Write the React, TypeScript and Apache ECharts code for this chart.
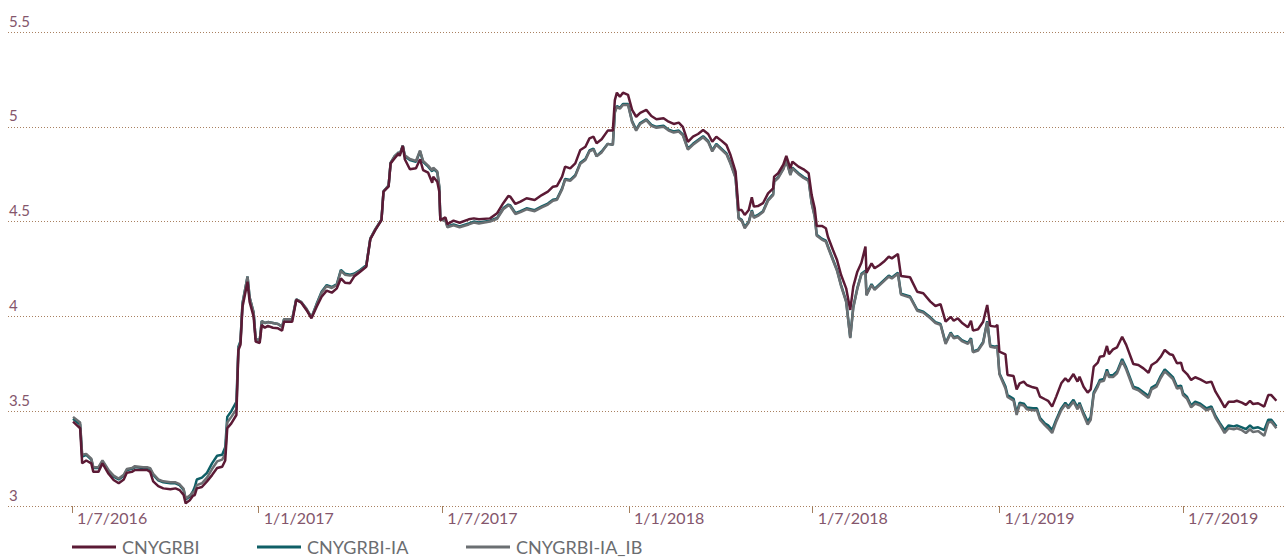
import React, { useEffect, useRef } from 'react';
import * as echarts from 'echarts';

const DAY_MS = 86400000;
const START = Date.UTC(2016, 6, 1);

// days since 1 Jul 2016
const dayOffsets = [
  1, 8, 10, 14, 19, 21, 26, 30, 36, 41,
  46, 51, 54, 59, 62, 70, 74, 77, 80, 85,
  90, 97, 102, 106, 110, 112, 116, 119, 121, 123,
  128, 133, 138, 143, 148, 151, 153, 157, 162, 164,
  166, 168, 173, 175, 179, 181, 185, 187, 190, 193,
  198, 203, 207, 209, 217, 221, 226, 231, 236, 241,
  246, 251, 256, 261, 265, 269, 274, 278, 284, 290,
  294, 299, 305, 307, 312, 314, 318, 322, 323, 326,
  328, 333, 339, 343, 346, 351, 355, 356, 360, 362,
  363, 368, 370, 376, 382, 391, 396, 401, 412, 419,
  425, 430, 432, 437, 442, 448, 456, 463, 469, 474,
  478, 483, 486, 491, 496, 501, 506, 510, 514, 517,
  522, 528, 533, 535, 537, 540, 543, 548, 552, 556,
  560, 566, 571, 576, 583, 588, 593, 598, 602, 607,
  612, 617, 622, 627, 631, 635, 640, 645, 649, 654,
  657, 660, 663, 667, 670, 672, 676, 681, 686, 691,
  692, 696, 701, 704, 708, 710, 716, 721, 726, 729,
  732, 734, 739, 743, 745, 750, 754, 758, 763, 767,
  770, 774, 778, 782, 783, 788, 791, 796, 800, 805,
  808, 814, 817, 826, 833, 839, 846, 851, 856, 861,
  866, 869, 873, 877, 883, 886, 888, 893, 898, 902,
  905, 910, 912, 914, 920, 922, 928, 931, 934, 938,
  941, 947, 951, 954, 959, 962, 966, 970, 975, 979,
  982, 987, 991, 993, 997, 1001, 1004, 1007, 1011, 1013,
  1017, 1020, 1022, 1026, 1030, 1035, 1039, 1046, 1051, 1056,
  1061, 1064, 1069, 1073, 1077, 1082, 1085, 1089, 1093, 1095,
  1099, 1103, 1107, 1112, 1118, 1123, 1127, 1131, 1136, 1140,
  1145, 1148, 1153, 1157, 1161, 1164, 1169, 1175, 1179, 1182,
  1187,
];

const cnygrbi = [
  3.445, 3.41, 3.225, 3.24, 3.225, 3.18, 3.18, 3.225, 3.17, 3.137,
  3.12, 3.14, 3.175, 3.18, 3.19, 3.19, 3.19, 3.18, 3.13, 3.105,
  3.093, 3.088, 3.093, 3.084, 3.058, 3.014, 3.03, 3.053, 3.058, 3.093,
  3.10, 3.13, 3.163, 3.20, 3.207, 3.24, 3.41, 3.436, 3.48, 3.823,
  3.85, 4.05, 4.183, 4.078, 3.998, 3.867, 3.86, 3.955, 3.94, 3.95,
  3.94, 3.937, 3.925, 3.972, 3.972, 4.087, 4.072, 4.034, 3.99, 4.05,
  4.104, 4.136, 4.125, 4.148, 4.20, 4.178, 4.175, 4.21, 4.236, 4.262,
  4.407, 4.456, 4.508, 4.658, 4.684, 4.807, 4.834, 4.86, 4.846, 4.899,
  4.829, 4.776, 4.781, 4.829, 4.772, 4.758, 4.705, 4.737, 4.71, 4.658,
  4.508, 4.523, 4.487, 4.505, 4.494, 4.512, 4.517, 4.512, 4.517, 4.544,
  4.597, 4.635, 4.631, 4.593, 4.605, 4.623, 4.614, 4.64, 4.658, 4.684,
  4.688, 4.737, 4.79, 4.781, 4.807, 4.878, 4.895, 4.939, 4.948, 4.913,
  4.934, 4.98, 4.98, 5.141, 5.18, 5.159, 5.18, 5.168, 5.089, 5.053,
  5.074, 5.089, 5.057, 5.04, 5.045, 5.027, 5.015, 5.022, 5.00, 4.921,
  4.948, 4.962, 4.983, 4.962, 4.921, 4.948, 4.927, 4.904, 4.851, 4.763,
  4.561, 4.561, 4.535, 4.561, 4.628, 4.579, 4.582, 4.597, 4.649, 4.675,
  4.737, 4.755, 4.80, 4.846, 4.781, 4.816, 4.79, 4.776, 4.755, 4.64,
  4.57, 4.477, 4.477, 4.465, 4.42, 4.35, 4.297, 4.218, 4.148, 4.034,
  4.157, 4.236, 4.283, 4.368, 4.23, 4.28, 4.254, 4.271, 4.288, 4.315,
  4.306, 4.329, 4.213, 4.206, 4.13, 4.122, 4.078, 4.055, 4.065, 3.972,
  3.998, 3.977, 3.99, 3.967, 3.943, 3.977, 3.925, 3.932, 3.972, 4.06,
  3.95, 3.946, 3.955, 3.814, 3.80, 3.691, 3.686, 3.615, 3.647, 3.656,
  3.638, 3.626, 3.621, 3.577, 3.563, 3.555, 3.524, 3.577, 3.647, 3.674,
  3.656, 3.696, 3.656, 3.682, 3.629, 3.598, 3.615, 3.735, 3.756, 3.787,
  3.791, 3.844, 3.80, 3.826, 3.837, 3.893, 3.85, 3.749, 3.744, 3.726,
  3.703, 3.744, 3.761, 3.787, 3.823, 3.80, 3.796, 3.753, 3.756, 3.717,
  3.696, 3.665, 3.679, 3.668, 3.65, 3.656, 3.603, 3.568, 3.52, 3.55,
  3.55, 3.555, 3.545, 3.533, 3.554, 3.538, 3.542, 3.524, 3.585, 3.585,
  3.555,
];

const cnygrbiIA = [
  3.46, 3.43, 3.26, 3.27, 3.245, 3.20, 3.20, 3.235, 3.185, 3.155,
  3.14, 3.16, 3.19, 3.195, 3.205, 3.20, 3.20, 3.195, 3.165, 3.135,
  3.125, 3.12, 3.12, 3.11, 3.085, 3.035, 3.05, 3.075, 3.10, 3.14,
  3.15, 3.175, 3.225, 3.265, 3.27, 3.31, 3.47, 3.50, 3.55, 3.84,
  3.87, 4.07, 4.21, 4.10, 4.02, 3.88, 3.875, 3.975, 3.965, 3.97,
  3.965, 3.96, 3.945, 3.985, 3.985, 4.09, 4.075, 4.04, 3.995, 4.065,
  4.13, 4.165, 4.155, 4.17, 4.245, 4.225, 4.22, 4.225, 4.245, 4.27,
  4.41, 4.46, 4.51, 4.66, 4.69, 4.81, 4.845, 4.865, 4.855, 4.90,
  4.845, 4.825, 4.815, 4.87, 4.815, 4.79, 4.765, 4.78, 4.76, 4.68,
  4.51, 4.51, 4.475, 4.485, 4.475, 4.49, 4.50, 4.495, 4.505, 4.52,
  4.57, 4.59, 4.585, 4.545, 4.555, 4.57, 4.56, 4.58, 4.595, 4.615,
  4.62, 4.675, 4.725, 4.72, 4.745, 4.81, 4.83, 4.875, 4.885, 4.845,
  4.87, 4.91, 4.905, 5.08, 5.11, 5.10, 5.12, 5.12, 5.03, 4.985,
  5.02, 5.04, 5.01, 5.0, 5.005, 4.985, 4.975, 4.98, 4.96, 4.885,
  4.91, 4.93, 4.95, 4.925, 4.875, 4.91, 4.885, 4.86, 4.81, 4.735,
  4.52, 4.51, 4.47, 4.50, 4.56, 4.525, 4.535, 4.555, 4.615, 4.645,
  4.715, 4.735, 4.78, 4.825, 4.75, 4.785, 4.755, 4.735, 4.72, 4.60,
  4.53, 4.43, 4.41, 4.40, 4.37, 4.30, 4.245, 4.165, 4.08, 3.89,
  4.05, 4.15, 4.225, 4.24, 4.115, 4.17, 4.145, 4.17, 4.19, 4.215,
  4.205, 4.23, 4.12, 4.105, 4.035, 4.025, 3.995, 3.97, 3.96, 3.86,
  3.915, 3.89, 3.895, 3.875, 3.86, 3.885, 3.815, 3.825, 3.865, 3.975,
  3.845, 3.84, 3.845, 3.70, 3.63, 3.585, 3.565, 3.49, 3.545, 3.54,
  3.52, 3.515, 3.515, 3.465, 3.435, 3.425, 3.40, 3.455, 3.515, 3.545,
  3.525, 3.56, 3.52, 3.545, 3.49, 3.445, 3.47, 3.60, 3.64, 3.665,
  3.67, 3.72, 3.69, 3.69, 3.71, 3.775, 3.73, 3.63, 3.62, 3.60,
  3.58, 3.625, 3.64, 3.685, 3.72, 3.695, 3.68, 3.63, 3.635, 3.595,
  3.575, 3.53, 3.55, 3.54, 3.515, 3.525, 3.475, 3.44, 3.40, 3.425,
  3.42, 3.425, 3.415, 3.405, 3.425, 3.41, 3.415, 3.40, 3.455, 3.455,
  3.42,
];

const cnygrbiIAIB = [
  3.47, 3.44, 3.27, 3.275, 3.25, 3.205, 3.205, 3.24, 3.19, 3.16,
  3.145, 3.165, 3.195, 3.20, 3.21, 3.205, 3.205, 3.20, 3.17, 3.14,
  3.13, 3.125, 3.125, 3.115, 3.09, 3.04, 3.055, 3.07, 3.08, 3.11,
  3.12, 3.15, 3.195, 3.235, 3.245, 3.275, 3.44, 3.47, 3.51, 3.83,
  3.86, 4.065, 4.21, 4.10, 4.02, 3.88, 3.875, 3.975, 3.965, 3.97,
  3.965, 3.96, 3.945, 3.985, 3.985, 4.09, 4.075, 4.04, 3.995, 4.06,
  4.125, 4.16, 4.15, 4.165, 4.24, 4.22, 4.215, 4.22, 4.24, 4.265,
  4.41, 4.46, 4.51, 4.66, 4.69, 4.81, 4.845, 4.865, 4.855, 4.90,
  4.85, 4.83, 4.82, 4.875, 4.82, 4.795, 4.77, 4.785, 4.765, 4.685,
  4.51, 4.505, 4.47, 4.48, 4.47, 4.485, 4.495, 4.49, 4.50, 4.515,
  4.565, 4.585, 4.58, 4.54, 4.55, 4.565, 4.555, 4.575, 4.59, 4.61,
  4.615, 4.67, 4.72, 4.715, 4.74, 4.805, 4.825, 4.87, 4.88, 4.845,
  4.865, 4.91, 4.905, 5.075, 5.105, 5.095, 5.115, 5.115, 5.025, 4.98,
  5.015, 5.035, 5.005, 4.995, 5.0, 4.98, 4.97, 4.975, 4.955, 4.88,
  4.905, 4.925, 4.945, 4.92, 4.87, 4.905, 4.88, 4.855, 4.805, 4.73,
  4.515, 4.505, 4.465, 4.495, 4.555, 4.52, 4.53, 4.55, 4.61, 4.64,
  4.71, 4.73, 4.775, 4.82, 4.745, 4.78, 4.75, 4.73, 4.715, 4.595,
  4.525, 4.425, 4.405, 4.395, 4.365, 4.295, 4.24, 4.16, 4.075, 3.885,
  4.045, 4.145, 4.22, 4.235, 4.11, 4.165, 4.14, 4.165, 4.185, 4.21,
  4.20, 4.225, 4.115, 4.10, 4.03, 4.02, 3.99, 3.965, 3.955, 3.855,
  3.91, 3.885, 3.89, 3.87, 3.855, 3.88, 3.81, 3.82, 3.86, 3.97,
  3.84, 3.835, 3.84, 3.695, 3.62, 3.575, 3.555, 3.48, 3.535, 3.53,
  3.51, 3.505, 3.505, 3.455, 3.425, 3.41, 3.385, 3.445, 3.505, 3.535,
  3.515, 3.55, 3.51, 3.535, 3.48, 3.43, 3.455, 3.59, 3.63, 3.655,
  3.66, 3.71, 3.68, 3.68, 3.70, 3.765, 3.72, 3.62, 3.61, 3.59,
  3.57, 3.615, 3.63, 3.675, 3.71, 3.685, 3.67, 3.62, 3.625, 3.585,
  3.565, 3.52, 3.54, 3.53, 3.505, 3.515, 3.465, 3.43, 3.385, 3.41,
  3.405, 3.41, 3.40, 3.385, 3.405, 3.39, 3.395, 3.37, 3.44, 3.445,
  3.41,
];

const tickDates = [
  [2016, 7, 1], [2017, 1, 1], [2017, 7, 1], [2018, 1, 1],
  [2018, 7, 1], [2019, 1, 1], [2019, 7, 1],
];
const tickLabels = ['1/7/2016', '1/1/2017', '1/7/2017', '1/1/2018', '1/7/2018', '1/1/2019', '1/7/2019'];

const seriesNames = ['CNYGRBI', 'CNYGRBI-IA', 'CNYGRBI-IA_IB'];
const seriesColors = ['#5b1a35', '#0f5f66', '#6b6f72'];

const LABEL_COLOR = '#84566c';
const FONT = 'Lato, "Open Sans", sans-serif';

export default function App() {
  const ref = useRef<HTMLDivElement>(null);

  useEffect(() => {
    if (!ref.current) return;
    const chart = echarts.init(ref.current, null, { renderer: 'svg' });
    const times = dayOffsets.map((d) => START + d * DAY_MS);
    const tickTimes = tickDates.map(([y, m, d]) => Date.UTC(y, m - 1, d));
    const seriesValues = [cnygrbi, cnygrbiIA, cnygrbiIAIB];
    const zOrder = [5, 3, 4];

    const legendCommon = {
      icon: 'rect',
      itemWidth: 44,
      itemHeight: 3,
      padding: 0,
      top: 538,
      selectedMode: false,
      textStyle: { color: '#6b6d70', fontSize: 18, fontFamily: FONT, padding: [0, 0, 0, 1] },
    };

    chart.setOption({
      animation: false,
      backgroundColor: '#ffffff',
      grid: { left: 8, right: 0, top: 32, bottom: 52, containLabel: false },
      legend: [
        { ...legendCommon, left: 72, data: [seriesNames[0]] },
        { ...legendCommon, left: 257, data: [seriesNames[1]] },
        { ...legendCommon, left: 466, data: [seriesNames[2]] },
      ],
      xAxis: {
        type: 'value',
        min: START - 63.1 * DAY_MS,
        max: START + 1195.5 * DAY_MS,
        axisLine: { show: false },
        splitLine: { show: false },
        axisTick: {
          show: true,
          customValues: tickTimes,
          length: 7,
          lineStyle: { color: '#a4805f', width: 1 },
        },
        axisLabel: {
          customValues: tickTimes,
          formatter: (v: number) => {
            const i = tickTimes.findIndex((t) => Math.abs(t - v) < DAY_MS);
            return i >= 0 ? tickLabels[i] : '';
          },
          align: 'left',
          padding: [0, 0, 0, 5],
          margin: 3,
          color: LABEL_COLOR,
          fontSize: 16,
          fontFamily: FONT,
        },
      },
      yAxis: {
        type: 'value',
        min: 3,
        max: 5.5,
        interval: 0.5,
        axisLine: { show: false },
        axisTick: { show: false },
        splitLine: {
          show: true,
          lineStyle: { type: [1, 2], color: '#a98060', width: 1 },
        },
        axisLabel: {
          inside: true,
          align: 'left',
          verticalAlign: 'bottom',
          margin: 0,
          padding: [0, 0, 4, 1],
          color: LABEL_COLOR,
          fontSize: 15,
          fontFamily: FONT,
        },
      },
      series: seriesNames.map((name, si) => ({
        name,
        type: 'line',
        showSymbol: false,
        symbol: 'none',
        z: zOrder[si],
        data: times.map((t, i) => [t, seriesValues[si][i]]),
        lineStyle: { color: seriesColors[si], width: 2.5 },
        itemStyle: { color: seriesColors[si] },
      })),
    });

    return () => chart.dispose();
  }, []);

  return (
    <div
      ref={ref}
      style={{ position: 'absolute', left: 0, top: 0, width: 1285, height: 558 }}
    />
  );
}
